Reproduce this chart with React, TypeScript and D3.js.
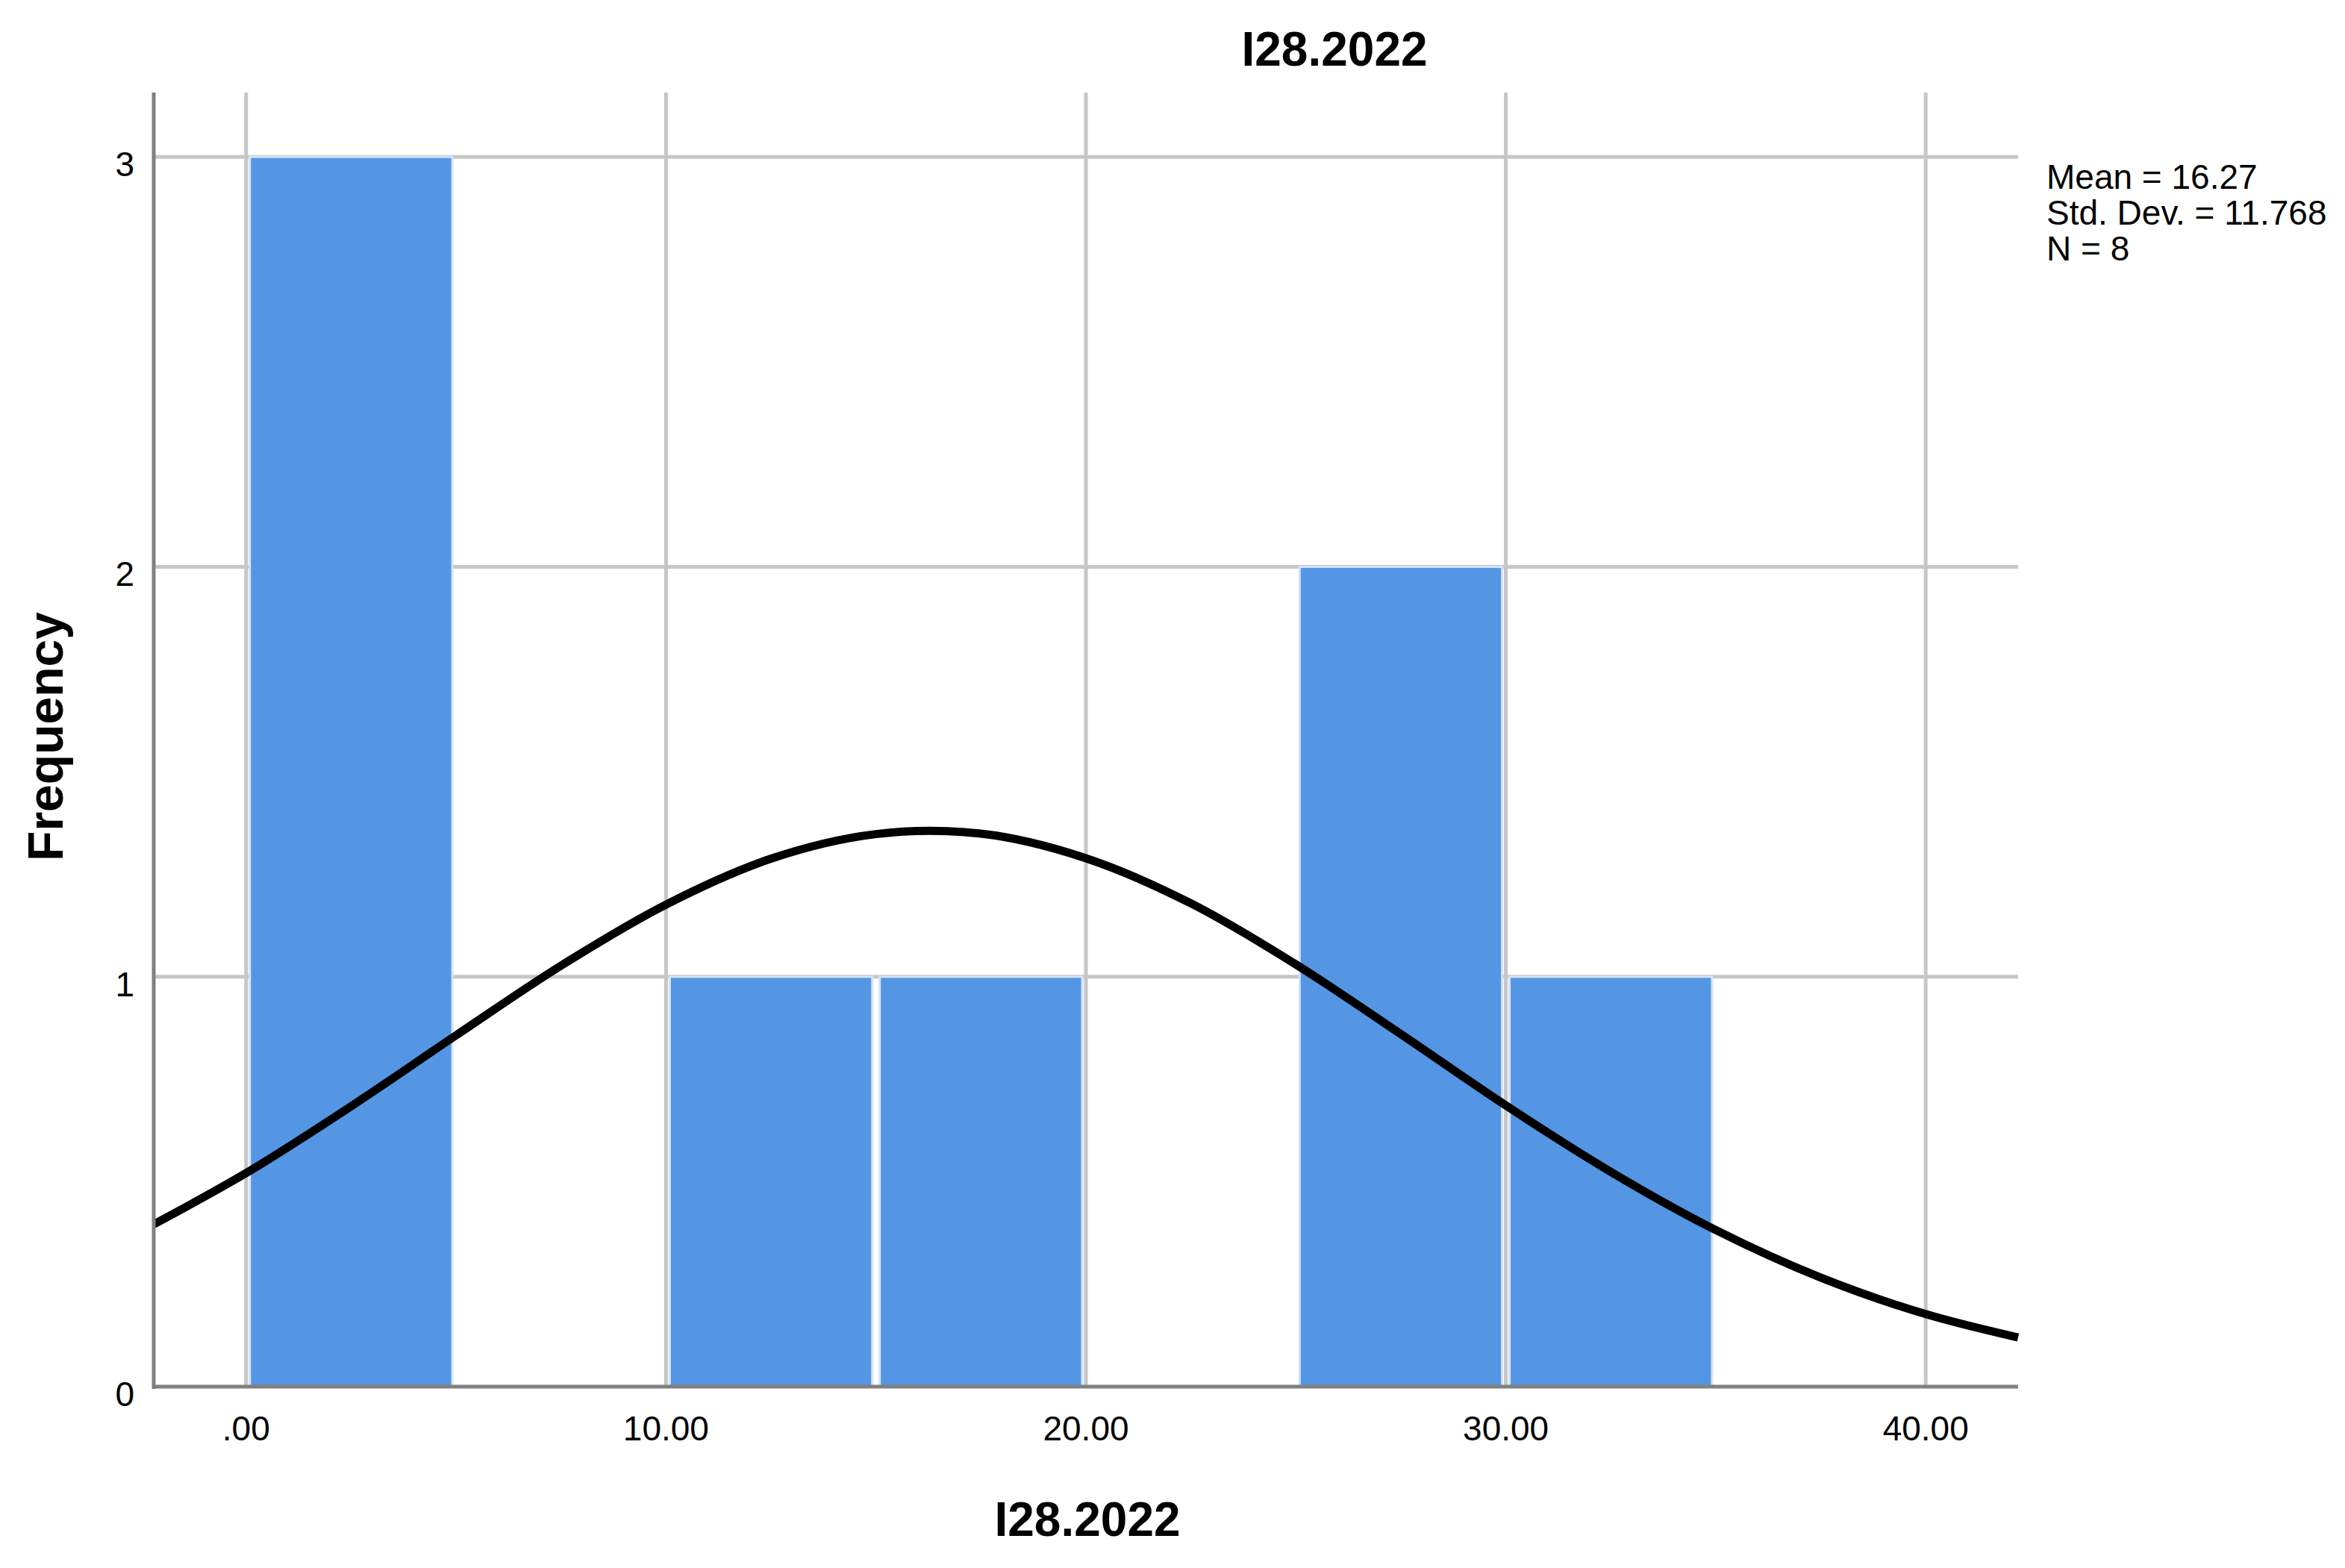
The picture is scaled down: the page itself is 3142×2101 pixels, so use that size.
import { useMemo } from "react";
import * as d3 from "d3";

const width = 3142;
const height = 2101;
const plot = { left: 206, right: 2704, top: 124, bottom: 1858 };

// histogram bins (lower edge) and counts
const binStarts = [0, 5, 10, 15, 20, 25, 30];
const binWidth = 5;
const counts = [3, 0, 1, 1, 0, 2, 1];

// fitted normal curve
const curveX = [-2.2, 0, 2.5, 5, 7.5, 10, 12.5, 15, 16.27, 17.5, 20, 22.5, 25, 27.5, 30, 32.5, 35, 37.5, 40, 42.2];
const curveY = [0.396, 0.521, 0.684, 0.857, 1.027, 1.176, 1.288, 1.348, 1.356, 1.349, 1.289, 1.179, 1.03, 0.86, 0.686, 0.524, 0.382, 0.266, 0.177, 0.12];

const xTicks = [0, 10, 20, 30, 40];
const xTickLabels = [".00", "10.00", "20.00", "30.00", "40.00"];
const yTicks = [0, 1, 2, 3];

const title = "I28.2022";
const statLines = ["Mean = 16.27", "Std. Dev. = 11.768", "N = 8"];

const font = "'Liberation Sans', Arial, sans-serif";

const App = () => {
  const { xScale, yScale, linePath } = useMemo(() => {
    const xScale = d3.scaleLinear().domain([-2.2, 42.2]).range([plot.left, plot.right]);
    const yScale = d3.scaleLinear().domain([0, 3.157]).range([plot.bottom, plot.top]);
    const line = d3
      .line<number>()
      .x((d) => xScale(d))
      .y((_, i) => yScale(curveY[i]))
      .curve(d3.curveMonotoneX);
    return { xScale, yScale, linePath: line(curveX) ?? "" };
  }, []);

  return (
    <svg
      width={width}
      height={height}
      style={{ position: "absolute", left: 0, top: 0, background: "#fff" }}
      fontFamily={font}
    >
      <rect x={0} y={0} width={width} height={height} fill="#fff" />

      {/* grid */}
      {yTicks.slice(1).map((t) => (
        <line key={"gy" + t} x1={plot.left} x2={plot.right} y1={yScale(t)} y2={yScale(t)} stroke="#c6c6c6" strokeWidth={5} />
      ))}
      {xTicks.map((t) => (
        <line key={"gx" + t} x1={xScale(t)} x2={xScale(t)} y1={plot.top} y2={plot.bottom} stroke="#c6c6c6" strokeWidth={5} />
      ))}

      {/* bars */}
      {counts.map((c, i) =>
        c > 0 ? (
          <rect
            key={"b" + i}
            x={xScale(binStarts[i]) + 5}
            y={yScale(c)}
            width={xScale(binStarts[i] + binWidth) - xScale(binStarts[i]) - 10}
            height={yScale(0) - yScale(c)}
            fill="#5596e4"
            stroke="#d3e4f8"
            strokeWidth={3}
          />
        ) : null
      )}

      {/* normal curve */}
      <path d={linePath} fill="none" stroke="#000" strokeWidth={11} strokeLinejoin="round" />

      {/* axes */}
      <line x1={plot.left} x2={plot.left} y1={plot.top} y2={plot.bottom + 3} stroke="#808080" strokeWidth={5} />
      <line x1={plot.left} x2={plot.right} y1={plot.bottom} y2={plot.bottom} stroke="#808080" strokeWidth={5} />

      {/* tick labels */}
      {yTicks.map((t) => (
        <text key={"ty" + t} x={180} y={yScale(t) + 26} fontSize={46} textAnchor="end" fill="#000">
          {t}
        </text>
      ))}
      {xTicks.map((t, i) => (
        <text key={"tx" + t} x={xScale(t)} y={1930} fontSize={46} textAnchor="middle" fill="#000">
          {xTickLabels[i]}
        </text>
      ))}

      {/* titles */}
      <text x={1788} y={88} fontSize={64} fontWeight="bold" textAnchor="middle" fill="#000">
        {title}
      </text>
      <text x={(plot.left + plot.right) / 2 + 2} y={2058} fontSize={64} fontWeight="bold" textAnchor="middle" fill="#000">
        {title}
      </text>
      <text
        transform={`translate(84, ${(plot.top + plot.bottom) / 2 - 4}) rotate(-90)`}
        fontSize={66}
        fontWeight="bold"
        textAnchor="middle"
        fill="#000"
      >
        Frequency
      </text>

      {/* stats */}
      {statLines.map((s, i) => (
        <text key={"s" + i} x={2742} y={253 + i * 48} fontSize={46} fill="#000">
          {s}
        </text>
      ))}
    </svg>
  );
};

export default App;
